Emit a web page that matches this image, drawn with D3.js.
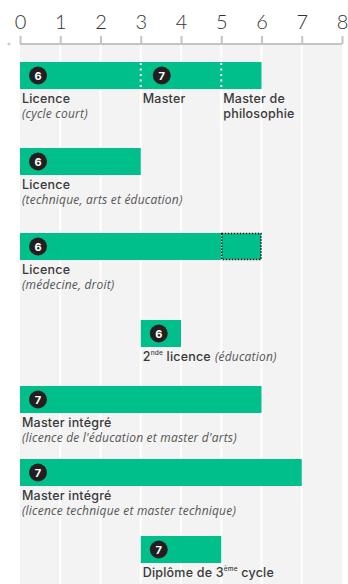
<!DOCTYPE html>
<html>
<head>
<meta charset="utf-8">
<script src="https://cdn.jsdelivr.net/npm/d3@7"></script>
<style>
  body { margin: 0; background: #fff; }
  svg { display: block; }
</style>
</head>
<body>
<div id="container"></div>
<script>
// Données : durée des programmes (années)
var annees = [0, 1, 2, 3, 4, 5, 6, 7, 8];
var titres = ["Licence", "Licence", "Licence", "2^nde^ licence", "Master intégré", "Master intégré", "Diplôme de 3^ème^ cycle"];
var sousTitres = ["(cycle court)", "(technique, arts et éducation)", "(médecine, droit)", "(éducation)",
                  "(licence de l'éducation et master d'arts)", "(licence technique et master technique)", ""];
var debut = [0, 0, 0, 3, 0, 0, 3];
var fin = [6, 3, 5, 4, 6, 7, 5];
var niveau = [6, 6, 6, 6, 7, 7, 7];
var extension = [null, null, 6, null, null, null, null];   // durée possible en pointillé
var coupures = [[3, 5], [], [], [], [], [], []];
var niveauCoupure = [[7, null], [], [], [], [], [], []];
var titreCoupure = [["Master", "Master de|philosophie"], [], [], [], [], [], []];

// mise en page
var w = 348, h = 584;
var rowTop = [62, 148, 233, 320, 386, 459, 536];
var barH = 27;
var vert = "#00bf8b";

var svg = d3.select("div#container")
    .append("svg")
    .attr("width", w)
    .attr("height", h);

var x = d3.scaleLinear().domain([0, 8]).range([20, 342]);

// fond gris + colonnes
svg.append("rect")
    .attr("x", x(0)).attr("y", 45)
    .attr("width", x(8) - x(0)).attr("height", h - 45)
    .attr("fill", "#f3f3f3");

svg.selectAll("line.grille")
    .data(annees.slice(1, 8))
    .enter()
    .append("line")
    .attr("class", "grille")
    .attr("x1", function(d){ return x(d); })
    .attr("x2", function(d){ return x(d); })
    .attr("y1", 45).attr("y2", h)
    .attr("stroke", "#fff")
    .attr("stroke-width", 2);

// axe du haut
var axe = svg.append("g")
    .attr("transform", "translate(0,44)")
    .call(d3.axisTop(x).tickValues(annees).tickSize(8).tickPadding(7));
axe.select(".domain").attr("stroke", "#c4c4c4").attr("stroke-width", 2).attr("d", "M" + x(0) + ",0H" + x(8));
axe.selectAll(".tick line").attr("stroke", "#c4c4c4").attr("stroke-width", 2);
axe.selectAll(".tick text")
    .attr("fill", "#333")
    .style("font-family", "Lato, sans-serif")
    .style("font-weight", "300")
    .style("font-size", "20px");

svg.append("circle").attr("cx", 9).attr("cy", 44).attr("r", 1.6).attr("fill", "#cfcfcf");

function ecrireTitre(el, txt) {
    var parts = txt.split("^");
    parts.forEach(function(p, i){
        if (!p) return;
        var t = el.append("tspan").text(p);
        if (i % 2 == 1) t.attr("font-size", "6.5px").attr("dy", "-6");
        else if (i > 0) t.attr("dy", "6");
    });
}

function pastille(g, cx, cy, n) {
    g.append("circle").attr("cx", cx).attr("cy", cy).attr("r", 9).attr("fill", "#231f20");
    g.append("text").attr("x", cx).attr("y", cy + 4)
        .attr("text-anchor", "middle")
        .attr("fill", "#fff")
        .style("font-family", "Inter, sans-serif")
        .style("font-weight", "700")
        .style("font-size", "11px")
        .text(n);
}

function styleTitre(t) {
    return t.attr("fill", "#3a3a3a")
        .style("font-family", "Inter, sans-serif")
        .style("font-weight", "500")
        .style("font-size", "12.5px")
        .style("letter-spacing", "0.2px");
}

titres.forEach(function(titre, i){
    var g = svg.append("g");
    var y0 = rowTop[i];

    g.append("rect")
        .attr("x", x(debut[i])).attr("y", y0)
        .attr("width", x(fin[i]) - x(debut[i])).attr("height", barH)
        .attr("fill", vert);

    if (extension[i] != null) {
        g.append("rect")
            .attr("x", x(fin[i]) + 0.5).attr("y", y0 + 0.5)
            .attr("width", x(extension[i]) - x(fin[i]) - 1).attr("height", barH - 1)
            .attr("fill", vert)
            .attr("stroke", "#111")
            .attr("stroke-width", 1.5)
            .attr("stroke-dasharray", "1.5,1.5");
    }

    pastille(g, x(debut[i]) + 18, y0 + barH / 2, niveau[i]);

    var lab = styleTitre(g.append("text")
        .attr("x", x(debut[i]) + 2).attr("y", y0 + barH + 14));
    ecrireTitre(lab, titre);

    var st = sousTitres[i];
    if (st) {
        var inline = i == 3;
        var sub = inline ? lab.append("tspan").attr("dx", 4) : g.append("text")
            .attr("x", x(debut[i]) + 2).attr("y", y0 + barH + 29);
        sub.attr("fill", "#555")
            .style("font-family", "'Open Sans', sans-serif")
            .style("font-style", "italic")
            .style("font-weight", "400")
            .style("font-size", "12px")
            .style("letter-spacing", "0.2px")
            .text(st);
    }

    coupures[i].forEach(function(c, k){
        g.append("line")
            .attr("x1", x(c)).attr("x2", x(c))
            .attr("y1", y0 + 1).attr("y2", y0 + barH)
            .attr("stroke", "#fff")
            .attr("stroke-width", 2)
            .attr("stroke-dasharray", "2,3.5");
        if (niveauCoupure[i][k] != null) pastille(g, x(c) + 21, y0 + barH / 2, niveauCoupure[i][k]);
        var lignes = titreCoupure[i][k].split("|");
        var t = styleTitre(g.append("text")
            .attr("x", x(c) + 2).attr("y", y0 + barH + 14));
        lignes.forEach(function(l, j){
            t.append("tspan").attr("x", x(c) + 2).attr("dy", j ? 15 : 0).text(l);
        });
    });
});
</script>
</body>
</html>
